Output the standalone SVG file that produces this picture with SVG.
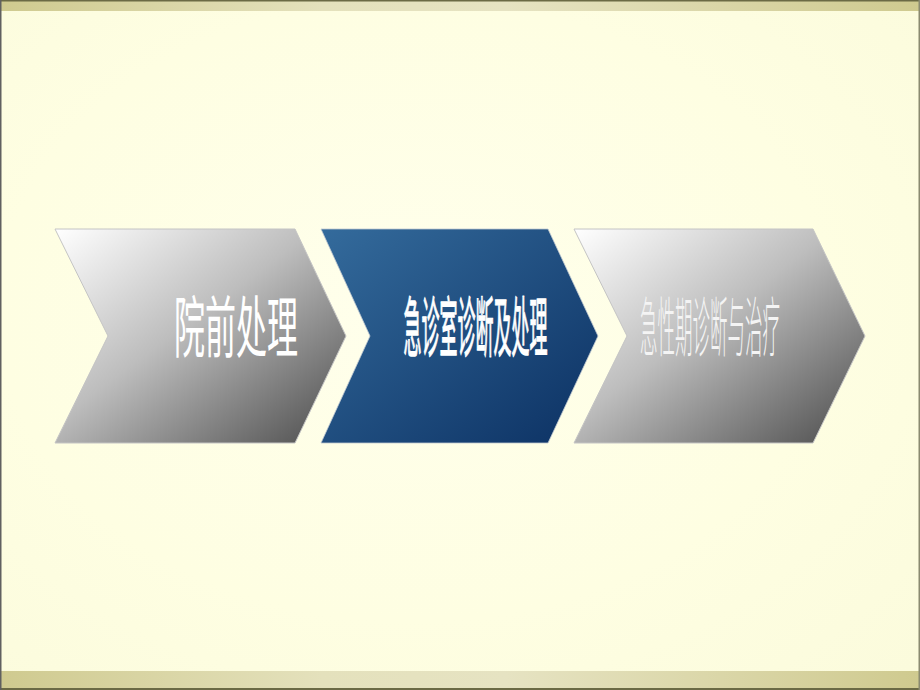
<svg xmlns="http://www.w3.org/2000/svg" width="920" height="690" viewBox="0 0 920 690">
<defs>
<radialGradient id="bg" cx="0.45" cy="0.45" r="0.75">
<stop offset="0" stop-color="#FFFFEC"/>
<stop offset="0.6" stop-color="#FEFEE2"/>
<stop offset="1" stop-color="#FBFBDC"/>
</radialGradient>
<linearGradient id="bar" x1="0" y1="0" x2="1" y2="0">
<stop offset="0" stop-color="#CFCA8F"/>
<stop offset="0.35" stop-color="#E4E1BC"/>
<stop offset="0.55" stop-color="#E6E3C2"/>
<stop offset="1" stop-color="#CFCA8F"/>
</linearGradient>
<linearGradient id="gray" x1="0" y1="0" x2="1" y2="1">
<stop offset="0" stop-color="#FFFFFF"/>
<stop offset="0.45" stop-color="#BDBDBD"/>
<stop offset="1" stop-color="#4A4A4A"/>
</linearGradient>
<linearGradient id="blue" x1="0" y1="0" x2="1" y2="1">
<stop offset="0" stop-color="#346B9C"/>
<stop offset="1" stop-color="#0C3163"/>
</linearGradient>
</defs>
<style>
.gc{fill:url(#gray);stroke:#C4C4C4;stroke-width:1}
.bc{fill:url(#blue);stroke:#BFC8D0;stroke-width:0.8}
.t{font-family:"Noto Sans CJK SC","Noto Sans CJK TC",sans-serif;text-anchor:middle}
</style>
<rect x="0" y="0" width="920" height="690" fill="url(#bg)"/>
<g id="frame">
<rect x="0" y="0" width="920" height="11" fill="url(#bar)"/>
<rect x="0" y="0" width="920" height="1.5" fill="#6B6A45"/>
<rect x="0" y="671" width="920" height="19" fill="url(#bar)"/>
<rect x="0" y="688" width="920" height="2" fill="#6B6A45"/>
<rect x="0" y="0" width="1.5" height="690" fill="#606060"/>
<rect x="918.5" y="0" width="1.5" height="690" fill="#8A8A70"/>
</g>
<g id="connectors"></g>
<g id="node1">
<polygon class="gc" points="55,229 295,229 346,336 295,443 55,443 108,336"/>
<text class="t" font-size="31" fill="#FFFFFF" transform="translate(236,352) scale(1,2.15)">院前处理</text>
</g>
<g id="node2">
<polygon class="bc" points="321,229 548,229 598,336 548,443 321,443 370,336"/>
<text class="t" font-size="18" fill="#FFFFFF" stroke="#FFFFFF" stroke-width="0.35" transform="translate(475.5,351) scale(1,3.6)">急诊室诊断及处理</text>
</g>
<g id="node3">
<polygon class="gc" points="574,229 813,229 865,336 813,443 574,443 627,336"/>
<text class="t" font-size="17.5" font-weight="300" fill="#F4F4F4" transform="translate(710,351) scale(1,3.7)">急性期诊断与治疗</text>
</g>
</svg>
